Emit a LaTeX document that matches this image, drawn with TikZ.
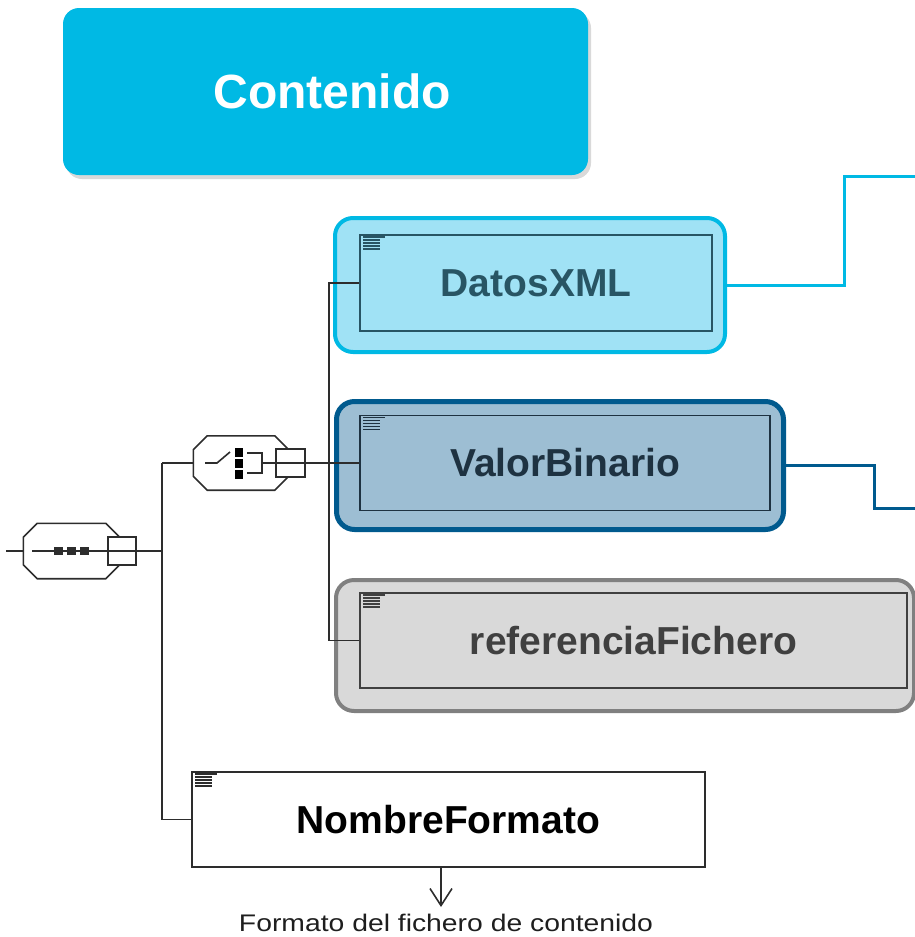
\documentclass[tikz,border=0pt]{standalone}
\usepackage{fontspec}
\setmainfont{Liberation Sans}
\newfontfamily\notefont[FakeStretch=1.18]{Liberation Sans}
\usetikzlibrary{arrows.meta,calc,shadows}

\definecolor{headcyan}{RGB}{0,185,228}
\definecolor{datosfill}{RGB}{160,226,245}
\definecolor{datosink}{RGB}{40,85,100}
\definecolor{valorfill}{RGB}{157,190,211}
\definecolor{valorline}{RGB}{0,90,142}
\definecolor{valorink}{RGB}{30,50,65}
\definecolor{reffill}{RGB}{217,217,217}
\definecolor{refline}{RGB}{128,128,128}
\definecolor{refink}{RGB}{64,64,64}
\definecolor{treeink}{RGB}{45,45,45}

\tikzset{
  elemfont/.style={font=\fontsize{39}{39}\selectfont\bfseries},
  headbox/.style={rounded corners=16pt, fill=headcyan, text=white, inner sep=0pt,
    font=\fontsize{48}{48}\selectfont\bfseries,
    drop shadow={shadow xshift=3pt, shadow yshift=-4pt, opacity=.3}},
  outerbox/.style={rounded corners=18pt, inner sep=0pt},
  innerbox/.style={draw, line width=1.8pt, inner sep=0pt, elemfont},
  compositor/.style={rectangle, inner sep=0pt},
  expandbox/.style={draw=treeink, line width=1.6pt, fill=white, inner sep=0pt},
  treeline/.style={draw=treeink, line width=1.6pt},
  notearrow/.style={-{Straight Barb[length=17pt,width=22pt,line width=1.6pt]}, line width=1.6pt}
}

\begin{document}
\begin{tikzpicture}[x=1pt, y=-1pt]
  \useasboundingbox (0,0) rectangle (915,937);

  \node[headbox, minimum width=525pt, minimum height=167pt] (contenido) at (325.5,91.5) {\hspace{13pt}Contenido};

  % choice members, outer frames
  \node[outerbox, draw=headcyan, line width=4pt, fill=datosfill,
    minimum width=390pt, minimum height=134pt] (datosOuter) at (530,285) {};
  \node[outerbox, draw=valorline, line width=5pt, fill=valorfill,
    minimum width=447pt, minimum height=128pt] (valorOuter) at (560,465.5) {};
  \node[outerbox, draw=refline, line width=4pt, fill=reffill,
    minimum width=578pt, minimum height=131pt] (refOuter) at (625,645.5) {};

  % elements
  \node[innerbox, draw=datosink, text=datosink, minimum width=352pt, minimum height=96pt] (datos) at (536,283) {DatosXML};
  \node[innerbox, draw=valorink, text=valorink, minimum width=410pt, minimum height=95pt] (valor) at (565,463) {ValorBinario};
  \node[innerbox, draw=refink, text=refink, minimum width=547pt, minimum height=95pt] (ref) at (633.5,640.5) {referenciaFichero};
  \node[innerbox, draw=treeink, text=black, fill=white, minimum width=513pt, minimum height=95pt] (nombre) at (448.5,819.5) {NombreFormato};

  % documentation marks
  \foreach \n/\c in {datos/datosink, valor/valorink, ref/refink, nombre/treeink}
    \foreach \k/\len in {0/22, 1/17, 2/17, 3/17, 4/17}
      \draw[draw=\c, line width=1.5pt] ($(\n.north west)+(4,3+3*\k)$) -- ++(\len,0);

  % links leaving to the right
  \coordinate (datosTurn) at (844,176);
  \coordinate (datosExit) at (920,176);
  \coordinate (valorTurn) at (874,508);
  \coordinate (valorExit) at (920,508);
  \draw[headcyan, line width=3pt] (datosOuter.east) -| (datosTurn) -- (datosExit);
  \draw[valorline, line width=3pt] (valorOuter.east) -| (valorTurn) -- (valorExit);

  % compositors
  \node[compositor, minimum width=96pt, minimum height=55pt] (seq) at (71.5,551) {};
  \node[compositor, minimum width=95pt, minimum height=54pt] (choice) at (241,463) {};
  \foreach \n in {seq,choice}
    \draw[treeline, fill=white] ($(\n.north west)+(0,14)$) -- ($(\n.north west)+(14,0)$)
      -- ($(\n.north east)+(-14,0)$) -- ($(\n.north east)+(0,14)$)
      -- ($(\n.south east)+(0,-14)$) -- ($(\n.south east)+(-14,0)$)
      -- ($(\n.south west)+(14,0)$) -- ($(\n.south west)+(0,-14)$) -- cycle;
  \node[expandbox, minimum width=28pt, minimum height=28pt] (seqbox) at (122,551) {};
  \node[expandbox, minimum width=29pt, minimum height=28pt] (choicebox) at (290.5,463) {};

  % sequence mark
  \foreach \dx in {-13,0,13}
    \fill[treeink] ($(seq.center)+(\dx-4.5,-4)$) rectangle ++(9,8);

  % choice mark
  \draw[treeline] ($(choice.center)+(-36,0)$) -- ++(12,0) -- ++(13,-11);
  \foreach \dy in {-11,0,11}
    \fill[black] ($(choice.center)+(-6,\dy-4.5)$) rectangle ++(8,9);
  \draw[treeline] ($(choice.center)+(6,-10)$) -- ++(15,0) -- ++(0,20) -- ++(-15,0);

  % tree lines
  \coordinate (seqIn) at (6,551);
  \coordinate (trunk) at (162,463);
  \draw[treeline] (seqIn) -- (seq.west);
  \draw[treeline] ($(seq.west)+(9,0)$) -- (seqbox.east -| trunk);
  \draw[treeline] (trunk) -- (choice.west);
  \draw[treeline] (trunk) |- (nombre.west);
  \draw[treeline] ($(choice.center)+(21,0)$) -- (choice.center -| valor.west);
  \draw[treeline] (datos.west) -- ++(-30,0) |- (ref.west);

  % note
  \coordinate (arrowEnd) at (441,907);
  \draw[notearrow, treeink] (arrowEnd |- nombre.south) -- (arrowEnd);
  \node[font=\notefont\fontsize{24}{24}\selectfont, text={rgb,255:red,30;green,30;blue,30}, anchor=base, inner sep=0pt] (fmtnote) at (446,931) {Formato del fichero de contenido};
\end{tikzpicture}
\end{document}
